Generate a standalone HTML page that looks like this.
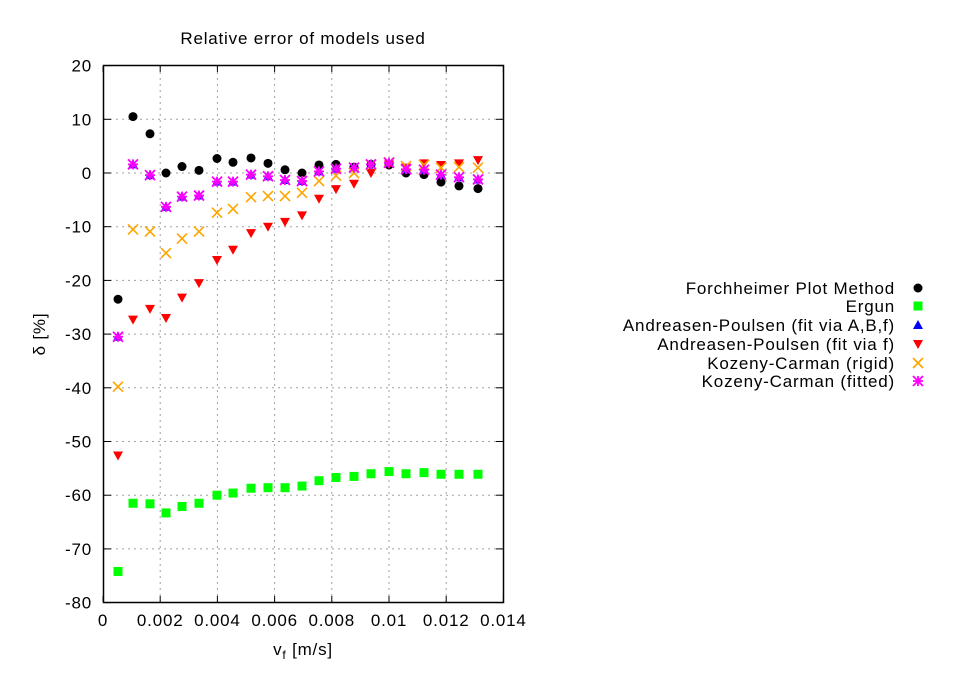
<!DOCTYPE html>
<html><head><meta charset="utf-8"><style>
html,body{margin:0;padding:0;background:#fff;}
svg{display:block;font-family:"Liberation Sans",sans-serif;}
text{letter-spacing:0.8px;}
</style></head><body>
<svg id="s" width="969" height="690" xmlns="http://www.w3.org/2000/svg">
<rect width="969" height="690" fill="#fff"/>
<g id="grid" stroke="#a0a0a0" stroke-width="1" stroke-dasharray="2,4"></g>
<g id="ticks" stroke="#000" stroke-width="1"></g>
<rect x="103.5" y="65.5" width="400" height="537" fill="none" stroke="#000" stroke-width="1.5"/>
<g id="lbl" font-size="17" fill="#000"></g>
<text x="303" y="44" font-size="17" text-anchor="middle">Relative error of models used</text>
<text x="303" y="655" font-size="17" text-anchor="middle">v<tspan font-size="12" dy="4">f</tspan><tspan dy="-4"> [m/s]</tspan></text>
<text transform="translate(45,334) rotate(-90)" font-size="17" text-anchor="middle">δ [%]</text>
<g id="pts"></g>
<g font-size="17" text-anchor="end">
<text x="895" y="294">Forchheimer Plot Method</text>
<text x="895" y="312">Ergun</text>
<text x="895" y="331">Andreasen-Poulsen (fit via A,B,f)</text>
<text x="895" y="350">Andreasen-Poulsen (fit via f)</text>
<text x="895" y="369">Kozeny-Carman (rigid)</text>
<text x="895" y="387">Kozeny-Carman (fitted)</text>
</g>
<g id="leg"></g>
</svg>
<script>
var NS="http://www.w3.org/2000/svg";
function el(p,t,a,txt){var e=document.createElementNS(NS,t);for(var k in a)e.setAttribute(k,a[k]);if(txt!=null)e.textContent=txt;document.getElementById(p).appendChild(e);return e;}
function Y(v){return 173-v*5.37;}
function X(v){return 103+v*28600;}
for(var v=-70;v<=10;v+=10){el('grid','line',{x1:104,x2:503,y1:Y(v),y2:Y(v)});}
for(var i=1;i<7;i++){var x=X(i*0.002);el('grid','line',{x1:x,x2:x,y1:66,y2:602});}
for(var v=-80;v<=20;v+=10){var y=Y(v);el('ticks','line',{x1:104,x2:111,y1:y,y2:y});el('ticks','line',{x1:496,x2:503,y1:y,y2:y});el('lbl','text',{x:92,y:y+6,'text-anchor':'end'},String(v));}
for(var i=0;i<=7;i++){var x=X(i*0.002);el('ticks','line',{x1:x,x2:x,y1:596,y2:602});el('ticks','line',{x1:x,x2:x,y1:66,y2:72});el('lbl','text',{x:x,y:626,'text-anchor':'middle'},i==0?'0':(i*0.002).toFixed(3).replace(/0+$/,''));}
var xs=[118,133,150,166,182,199,217,233,251,268,285,302,319,336,354,371,389,406,424,441,459,478];
var blk=[-23.5,10.5,7.3,0,1.2,0.5,2.7,2.0,2.8,1.8,0.6,0,1.5,1.6,1.1,1.6,1.5,0,-0.3,-1.7,-2.4,-2.9];
var grn=[-74.2,-61.5,-61.6,-63.3,-62.1,-61.5,-60.0,-59.6,-58.7,-58.6,-58.6,-58.3,-57.3,-56.7,-56.5,-56.0,-55.6,-56.0,-55.8,-56.1,-56.1,-56.1];
var red=[-52.6,-27.3,-25.3,-27.0,-23.2,-20.5,-16.2,-14.3,-11.2,-10.0,-9.1,-7.9,-4.8,-3.0,-2.0,0,1.6,1.0,1.8,1.5,1.8,2.4];
var org=[-39.8,-10.5,-10.9,-14.9,-12.2,-10.9,-7.4,-6.7,-4.5,-4.3,-4.3,-3.7,-1.5,-0.5,0,1.5,2.0,1.3,1.5,1.0,1.1,1.0];
var mag=[-30.5,1.6,-0.4,-6.3,-4.4,-4.2,-1.6,-1.6,-0.3,-0.6,-1.3,-1.5,0.3,0.8,1.0,1.6,1.9,0.7,0.6,-0.3,-0.8,-1.2];
function circ(g,x,y){el(g,'circle',{cx:x,cy:y,r:4.5,fill:'#000'});}
function sq(g,x,y){el(g,'rect',{x:x-4.5,y:y-4.5,width:9,height:9,fill:'#00ff00'});}
function tup(g,x,y){el(g,'polygon',{points:(x-5)+','+(y+4)+' '+(x+5)+','+(y+4)+' '+x+','+(y-5),fill:'#0000ff'});}
function tdn(g,x,y){el(g,'polygon',{points:(x-5)+','+(y-4)+' '+(x+5)+','+(y-4)+' '+x+','+(y+5),fill:'#ff0000'});}
function cross(g,x,y){el(g,'path',{d:'M'+(x-5)+' '+(y-5)+'L'+(x+5)+' '+(y+5)+'M'+(x-5)+' '+(y+5)+'L'+(x+5)+' '+(y-5),stroke:'#ffa500','stroke-width':1.6,fill:'none'});}
function star(g,x,y){el(g,'path',{d:'M'+(x-5)+' '+(y-5)+'L'+(x+5)+' '+(y+5)+'M'+(x-5)+' '+(y+5)+'L'+(x+5)+' '+(y-5)+'M'+(x-5)+' '+y+'L'+(x+5)+' '+y+'M'+x+' '+(y-5)+'L'+x+' '+(y+5),stroke:'#ff00ff','stroke-width':1.8,fill:'none'});}
for(var i=0;i<22;i++){var x=xs[i];
circ('pts',x,Y(blk[i]));sq('pts',x,Y(grn[i]));tup('pts',x,Y(mag[i]));tdn('pts',x,Y(red[i]));cross('pts',x,Y(org[i]));star('pts',x,Y(mag[i]));}
circ('leg',918,288);sq('leg',918,306);tup('leg',918,325);tdn('leg',918,344);cross('leg',918,363);star('leg',918,381);
</script>
</body></html>
